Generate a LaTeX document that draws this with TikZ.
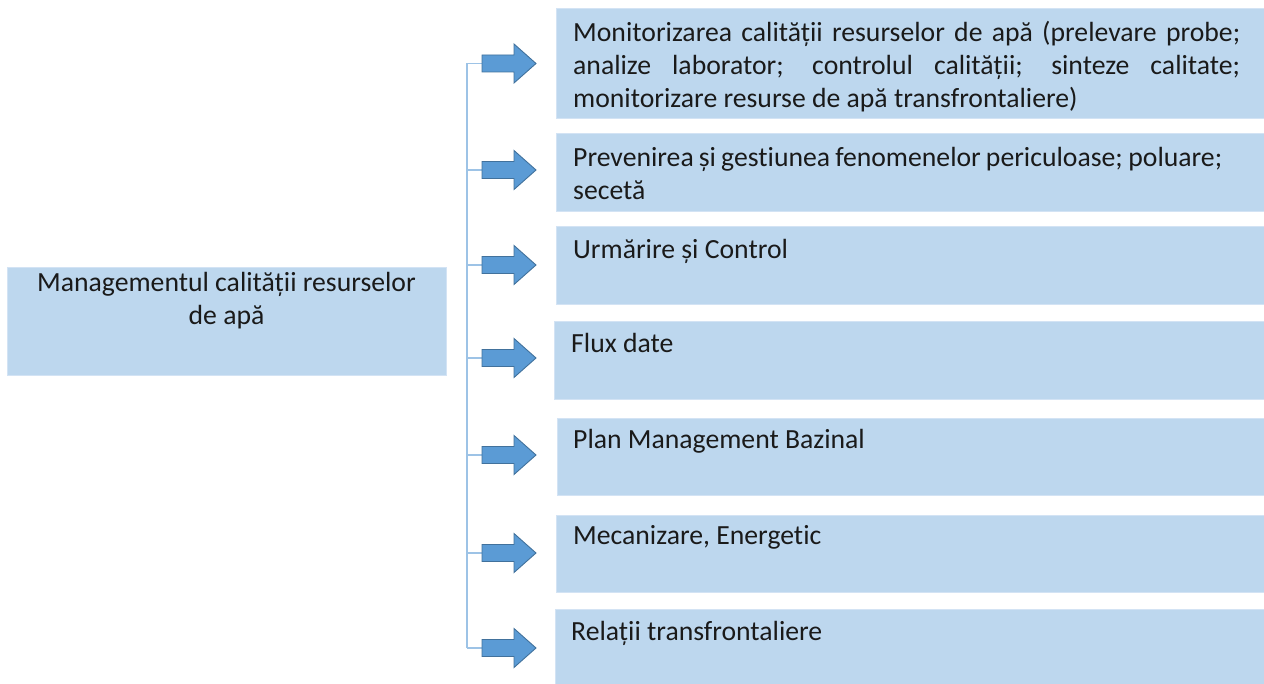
\documentclass[tikz,border=0pt]{standalone}
\usepackage{fontspec}
\setmainfont{Carlito}[Ligatures=NoCommon]
\definecolor{boxfill}{HTML}{BDD7EE}
\definecolor{boxedge}{HTML}{D3E3F4}
\definecolor{arrfill}{HTML}{5B9BD5}
\definecolor{arredge}{HTML}{41719C}
\definecolor{conn}{HTML}{9DC3E6}
\definecolor{txt}{HTML}{1A1A1A}
\tikzset{
  box/.style={draw=boxedge, line width=0.8pt, fill=boxfill, inner sep=0pt, anchor=north west},
  rtext/.style={inner sep=0pt, anchor=north west, align=justify, text=txt,
    font=\fontsize{27.7}{33}\selectfont},
  ltext/.style={inner sep=0pt, anchor=north, align=center, text=txt,
    font=\fontsize{27.7}{33}\selectfont},
  connline/.style={draw=conn, line width=1.4pt},
  blockarrow/.style={fill=arrfill, draw=arredge, line width=0.9pt, line join=miter}
}
\begin{document}
\begin{tikzpicture}[x=1pt,y=-1pt]
\useasboundingbox (0,0) rectangle (1264,684);
% left box
\node[box, minimum width=439pt, minimum height=108pt] (L) at (7,267) {};
\node[ltext] (Lt) at (226.5,268.4) {\strut Managementul calității resurselor\\de apă};
% right boxes
\node[box, minimum width=708pt, minimum height=110pt] (R1) at (556,8) {};
\node[box, minimum width=708pt, minimum height=78pt] (R2) at (556,133) {};
\node[box, minimum width=708pt, minimum height=78pt] (R3) at (556,226) {};
\node[box, minimum width=710pt, minimum height=78pt] (R4) at (554,321) {};
\node[box, minimum width=707pt, minimum height=77pt] (R5) at (557,418) {};
\node[box, minimum width=708pt, minimum height=77pt] (R6) at (556,515) {};
\node[box, minimum width=709pt, minimum height=76pt] (R7) at (555,609) {};
% texts
\node[rtext, text width=667pt] (T1) at (573,17.9) {\strut Monitorizarea calității resurselor de apă (prelevare probe;\linebreak analize laborator; controlul calității; sinteze calitate;\linebreak monitorizare resurse de apă transfrontaliere)};
\node[rtext, text width=649pt] (T2) at (573,142.9) {\strut Prevenirea și gestiunea fenomenelor periculoase; poluare;\linebreak secetă};
\node[rtext, text width=600pt] (T3) at (573,234.9) {\strut Urmărire și Control};
\node[rtext, text width=600pt] (T4) at (571,328.9) {\strut Flux date};
\node[rtext, text width=600pt] (T5) at (573,424.9) {\strut Plan Management Bazinal};
\node[rtext, text width=600pt] (T6) at (573,520.9) {\strut Mecanizare, Energetic};
\node[rtext, text width=600pt] (T7) at (571,616.9) {\strut Relații transfrontaliere};
% spine and arrows
\foreach \i/\y in {1/63.5,2/170,3/265,4/358,5/455,6/553,7/648}{
  \coordinate (s\i) at (467,\y);
  \coordinate (a\i) at (482,\y);
}
\draw[connline] (s1) -- (s7);
\foreach \i in {1,...,7}{
  \draw[connline] (s\i) -- (a\i);
  \path[blockarrow] (a\i) ++(0,-8.5) -- ++(32,0) -- ++(0,-11) -- ++(22,19.5)
     -- ++(-22,19.5) -- ++(0,-11) -- ++(-32,0) -- cycle;
}
\end{tikzpicture}
\end{document}
